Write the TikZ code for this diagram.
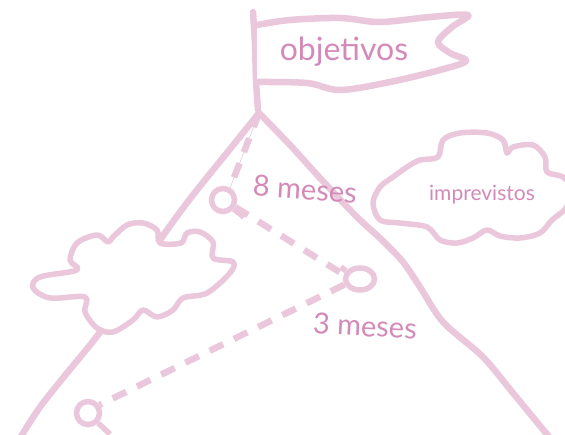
\documentclass[tikz,border=0pt]{standalone}
\usepackage{fontspec}
\setmainfont{Lato}
\usetikzlibrary{shapes.geometric}

\definecolor{chalk}{RGB}{234,199,219}
\definecolor{ink}{RGB}{212,138,184}

\tikzset{
  sketchline/.style={draw=chalk, line width=6.5pt, line cap=round, line join=round},
  routeline/.style={draw=chalk, line width=6.5pt, dash pattern=on 15pt off 12pt},
  stop/.style={circle, draw=chalk, line width=5.5pt, minimum size=23pt, inner sep=0pt},
  inklabel/.style={text=ink, inner sep=0pt},
}

\begin{document}
\begin{tikzpicture}[x=1pt, y=-1pt]
  \useasboundingbox (0,0) rectangle (565,434);

  % mountain
  \coordinate (peak) at (259,113);
  \draw[sketchline] plot[smooth] coordinates {(peak) (226,154) (193,195) (167,230) (133,280) (100,332) (67,373) (40,407) (20,438)};
  \draw[sketchline] plot[smooth] coordinates {(peak) (290,145) (320,178) (357,217) (382,240) (403,262) (420,287) (443,322) (483,357) (513,393) (550,438)};

  % flag on the top
  \draw[sketchline] plot[smooth] coordinates {(253,12) (255,45) (256,80) (258,110)};
  \draw[sketchline, fill=white] plot[smooth, tension=0.55] coordinates {(257,25) (290,20) (340,18) (380,22) (430,17) (468,15)
    (452,27) (438,42) (450,53) (466,61) (440,70) (390,82) (340,90) (307,83) (257,82)};
  \node[inklabel, font=\fontsize{32}{34}\selectfont] (goal) at (344,52) {objetivos};

  % clouds
  \draw[sketchline, line width=5.5pt, fill=white] plot[smooth cycle, tension=0.55] coordinates {
    (77,270) (40,277) (33,288) (50,298) (85,297) (85,312) (97,328) (113,332)
    (133,320) (143,310) (157,317) (173,310) (183,298) (207,293) (230,273)
    (233,262) (213,258) (213,242) (200,232) (187,233) (181,243) (160,243)
    (157,230) (143,223) (127,225) (113,237) (108,242) (97,235) (77,243) (70,260)};
  \draw[sketchline, line width=5.5pt, fill=white] plot[smooth cycle, tension=0.55] coordinates {
    (380,187) (373,203) (380,220) (400,223) (427,227) (440,240) (457,243)
    (473,238) (487,230) (500,236) (520,238) (540,233) (552,220) (566,208)
    (572,190) (563,177) (547,172) (545,157) (533,145) (513,147) (507,153)
    (503,140) (487,133) (460,133) (443,140) (438,157) (420,160) (407,167) (393,177)};
  \node[inklabel, font=\fontsize{21}{23}\selectfont] (risk) at (482,195) {imprevistos};

  % stops along the route
  \node[stop] (stopa) at (223,200) {};
  \node[stop, ellipse, minimum width=29pt, minimum height=22pt] (stopb) at (360,279) {};
  \node[stop] (stopc) at (88,413) {};
  \draw[sketchline, line width=5.5pt, line cap=butt] (stopa.-40) -- ++(10,8);
  \draw[sketchline, line width=5.5pt, line cap=butt] (stopb.150) -- ++(-5,-4);
  \draw[sketchline, line width=5.5pt, line cap=butt] (stopc.-45) -- ++(12,11);

  % route between the stops
  \draw[draw=chalk, line width=0.6pt] (peak) -- (stopa.60);
  \draw[routeline] (peak) -- (stopa.60);
  \draw[routeline] (stopa.-30) -- (stopb.165);
  \draw[routeline] (stopb.200) -- (stopc.35);

  \node[inklabel, font=\fontsize{29}{31}\selectfont, rotate=-4] (later) at (305,189) {8 meses};
  \node[inklabel, font=\fontsize{29}{31}\selectfont, rotate=-3] (sooner) at (365,326) {3 meses};
\end{tikzpicture}
\end{document}
